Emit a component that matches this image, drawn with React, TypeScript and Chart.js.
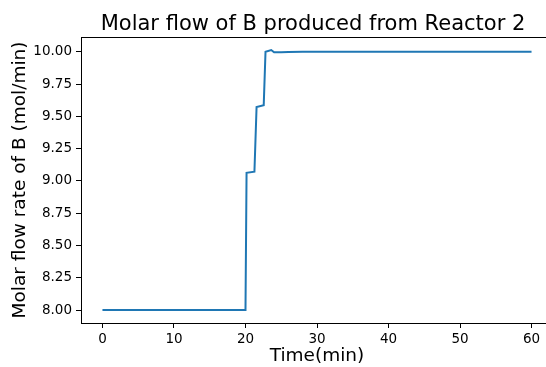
import React, { useEffect, useRef } from "react";
import { Chart, registerables } from "chart.js";

Chart.register(...registerables);

const timeMin = [0, 5, 10, 15, 20, 20.15, 21.25, 21.55, 22.55, 22.8, 23.6, 24.0, 25, 26, 28, 30, 35, 40, 45, 50, 55, 60];
const flowB = [8.0, 8.0, 8.0, 8.0, 8.0, 9.063, 9.071, 9.572, 9.587, 10.0, 10.014, 9.996, 9.997, 9.999, 10.0, 10.0, 10.0, 10.0, 10.0, 10.0, 10.0, 10.0];
const xTicks = [0, 10, 20, 30, 40, 50, 60];
const yTicks = [8.0, 8.25, 8.5, 8.75, 9.0, 9.25, 9.5, 9.75, 10.0];
const titleText = "Molar flow of B produced from Reactor 2";

const FONT = "'DejaVu Sans', sans-serif";

const framePlugin = {
  id: "frame",
  afterDraw(chart: any) {
    const { ctx, chartArea } = chart;
    ctx.save();
    ctx.strokeStyle = "#000";
    ctx.lineWidth = 1;
    ctx.strokeRect(
      Math.round(chartArea.left) + 0.5,
      Math.round(chartArea.top) + 0.5,
      Math.round(chartArea.right - chartArea.left),
      Math.round(chartArea.bottom - chartArea.top)
    );
    ctx.fillStyle = "#000";
    ctx.font = `21px ${FONT}`;
    ctx.textAlign = "center";
    ctx.textBaseline = "alphabetic";
    ctx.fillText(titleText, 313, 30);
    ctx.restore();
  },
};

export default function App() {
  const ref = useRef<HTMLCanvasElement>(null);
  useEffect(() => {
    if (!ref.current) return;
    const chart = new Chart(ref.current, {
      type: "line",
      data: {
        datasets: [
          {
            data: timeMin.map((t, i) => ({ x: t, y: flowB[i] })),
            borderColor: "#1f77b4",
            borderWidth: 2,
            pointRadius: 0,
            tension: 0,
            fill: false,
          },
        ],
      },
      options: {
        animation: false,
        responsive: false,
        devicePixelRatio: 1,
        layout: { padding: { left: 0, right: 3, top: 37, bottom: 0 } },
        plugins: {
          legend: { display: false },
          tooltip: { enabled: false },
          title: { display: false },
        },
        scales: {
          x: {
            type: "linear",
            min: -3,
            max: 63,
            afterFit: (s: any) => {
              s.height = 44;
            },
            afterBuildTicks: (s: any) => {
              s.ticks = xTicks.map((v) => ({ value: v }));
            },
            ticks: {
              color: "#000",
              font: { family: FONT, size: 13.5 },
              padding: 3,
              maxRotation: 0,
              includeBounds: false,
              callback: (v: any) => String(v),
            },
            grid: {
              drawOnChartArea: false,
              drawTicks: true,
              tickLength: 5,
              color: "#000",
              tickWidth: 1,
            },
            border: { display: true, color: "#000", width: 1 },
            title: {
              display: true,
              text: "Time(min)",
              color: "#000",
              font: { family: FONT, size: 18.5, lineHeight: 1.2 },
              padding: { top: 0, bottom: 0 },
            },
          },
          y: {
            type: "linear",
            min: 7.8993,
            max: 10.1147,
            afterFit: (s: any) => {
              s.width = 81;
            },
            afterBuildTicks: (s: any) => {
              s.ticks = yTicks.map((v) => ({ value: v }));
            },
            ticks: {
              color: "#000",
              font: { family: FONT, size: 13.5 },
              padding: 4,
              includeBounds: false,
              callback: (v: any) => Number(v).toFixed(2),
            },
            grid: {
              drawOnChartArea: false,
              drawTicks: true,
              tickLength: 5,
              color: "#000",
              tickWidth: 1,
            },
            border: { display: true, color: "#000", width: 1 },
            title: {
              display: true,
              text: "Molar flow rate of B (mol/min)",
              color: "#000",
              font: { family: FONT, size: 18.5, lineHeight: 1.2 },
              padding: { top: 9, bottom: 0 },
            },
          },
        },
      },
      plugins: [framePlugin],
    });
    return () => chart.destroy();
  }, []);
  return (
    <div style={{ position: "absolute", left: 0, top: 0, width: 546, height: 367, overflow: "hidden", background: "#fff" }}>
      <canvas ref={ref} width={556} height={367} style={{ width: 556, height: 367, display: "block" }} />
    </div>
  );
}
